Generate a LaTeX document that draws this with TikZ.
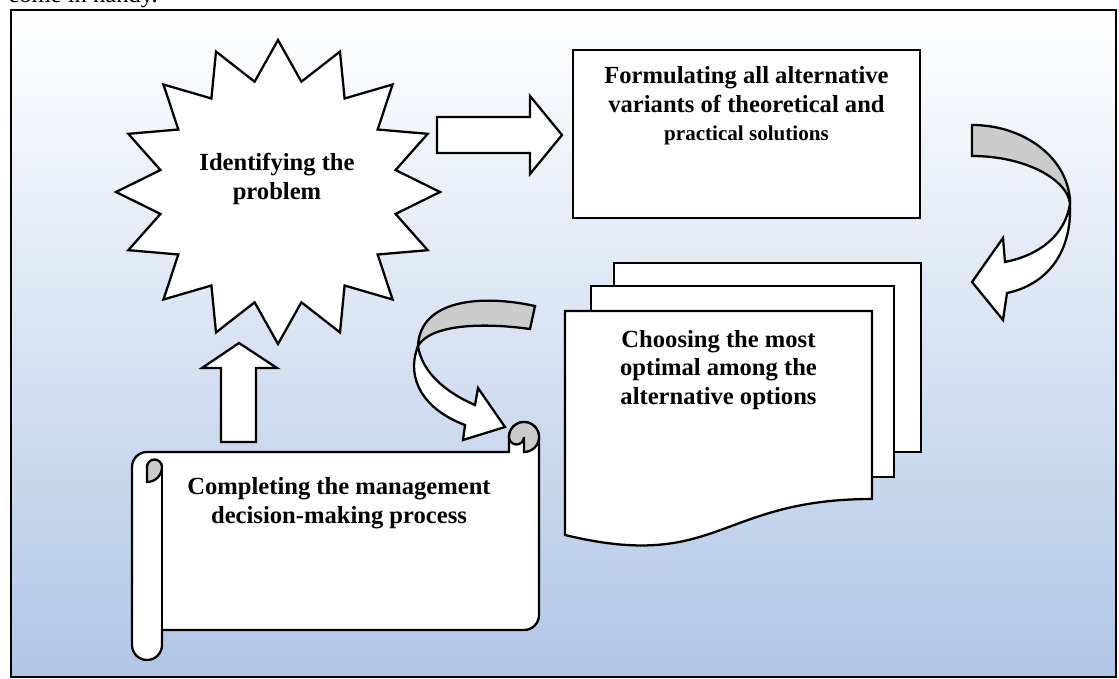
\documentclass[tikz,border=0pt]{standalone}
\usepackage{fontspec}
\setmainfont{Liberation Serif}
\definecolor{panelblue}{RGB}{177,198,230}
\definecolor{backgrey}{RGB}{204,204,204}
\tikzset{
  shape line/.style={draw=black, line width=1.3pt, fill=white},
  back part/.style={draw=black, line width=1.3pt, fill=backgrey},
  step text/.style={font=\fontsize{14}{16.2}\selectfont\bfseries, align=center, inner sep=0pt}
}

\begin{document}
\begin{tikzpicture}[x=0.02cm, y=-0.02cm]
  \useasboundingbox (0,0) rectangle (1119,679);
  \node[anchor=base west, inner sep=0pt, font=\fontsize{14}{16}\selectfont] (intro) at (8,3) {come in handy.};
  \shade[top color=white, bottom color=panelblue] (11,10) rectangle (1116,677);
  \draw[line width=1.4pt] (11,10) rectangle (1116,677);
  % star
  \draw[shape line] plot[variable=\k, samples at={0,...,31}]
    ({278+162*(0.87+0.13*cos(180*\k))*cos(90+11.25*\k)}, {192-152*(0.87+0.13*cos(180*\k))*sin(90+11.25*\k)}) -- cycle;
  \node[step text] (problem) at (277,179) {Identifying the\\problem};
  % block arrows
  \draw[shape line] (437,117) -- (530,117) -- (530,96) -- (562,135) -- (530,174) -- (530,153) -- (437,153) -- cycle;
  \draw[shape line] (221,442) -- (221,368) -- (202,368) -- (239,343) -- (277,368) -- (256,368) -- (256,442) -- cycle;
  % box
  \node[shape line, minimum width=6.94cm, minimum height=3.36cm, inner sep=0pt] (formbox) at (746.5,134) {};
  \node[step text] (formulate) at (746.5,106) {Formulating all alternative\\variants of theoretical and\\{\fontsize{12}{14}\selectfont practical solutions}};
  % curved arrows
  \draw[back part] (972,125) .. controls (1026,125) and (1070,160) .. (1070,204) .. controls (1068,180) and (1026,156) .. (972,156) -- cycle;
  \draw[shape line] (1070,204) .. controls (1072,255) and (1045,285) .. (1007,293) -- (1003,320) -- (972,282) -- (1003,238) -- (1005,262) .. controls (1040,255) and (1065,235) .. (1070,204) -- cycle;
  \draw[back part] (535,306) .. controls (480,294) and (420,300) .. (418,346) .. controls (430,325) and (480,322) .. (530,329) -- cycle;
  \draw[shape line] (418,346) .. controls (405,380) and (425,410) .. (465,425) -- (463,440) -- (505,427) -- (478,388) -- (475,405) .. controls (445,392) and (422,372) .. (418,346) -- cycle;
  % pages
  \draw[shape line] (614,263) rectangle (921,452);
  \draw[shape line] (591,286) rectangle (894,477);
  \draw[shape line] (565,311) -- (872,311) -- (872,499) .. controls (718,499) and (718,572) .. (565,535) -- cycle;
  \node[step text] (choose) at (718.5,370) {Choosing the most\\optimal among the\\alternative options};
  % scroll
  \draw[shape line] (147,452) -- (509,452) -- (509,437) arc[start angle=180, end angle=360, radius=15] -- (539,615) arc[start angle=0, end angle=90, radius=15] -- (162,630) -- (162,645) arc[start angle=0, end angle=180, radius=15] -- (132,467) arc[start angle=180, end angle=270, radius=15] -- cycle;
  \draw[line width=1.3pt] (162,467) -- (162,630);
  \draw[back part] (147,482) arc[start angle=90, end angle=0, radius=15] arc[start angle=0, end angle=-180, radius=7.5] -- cycle;
  \draw[back part] (524,452) arc[start angle=90, end angle=-180, radius=15] arc[start angle=180, end angle=0, radius=7.5] -- cycle;
  \node[step text] (complete) at (339,503) {Completing the management\\decision-making process};
\end{tikzpicture}
\end{document}
